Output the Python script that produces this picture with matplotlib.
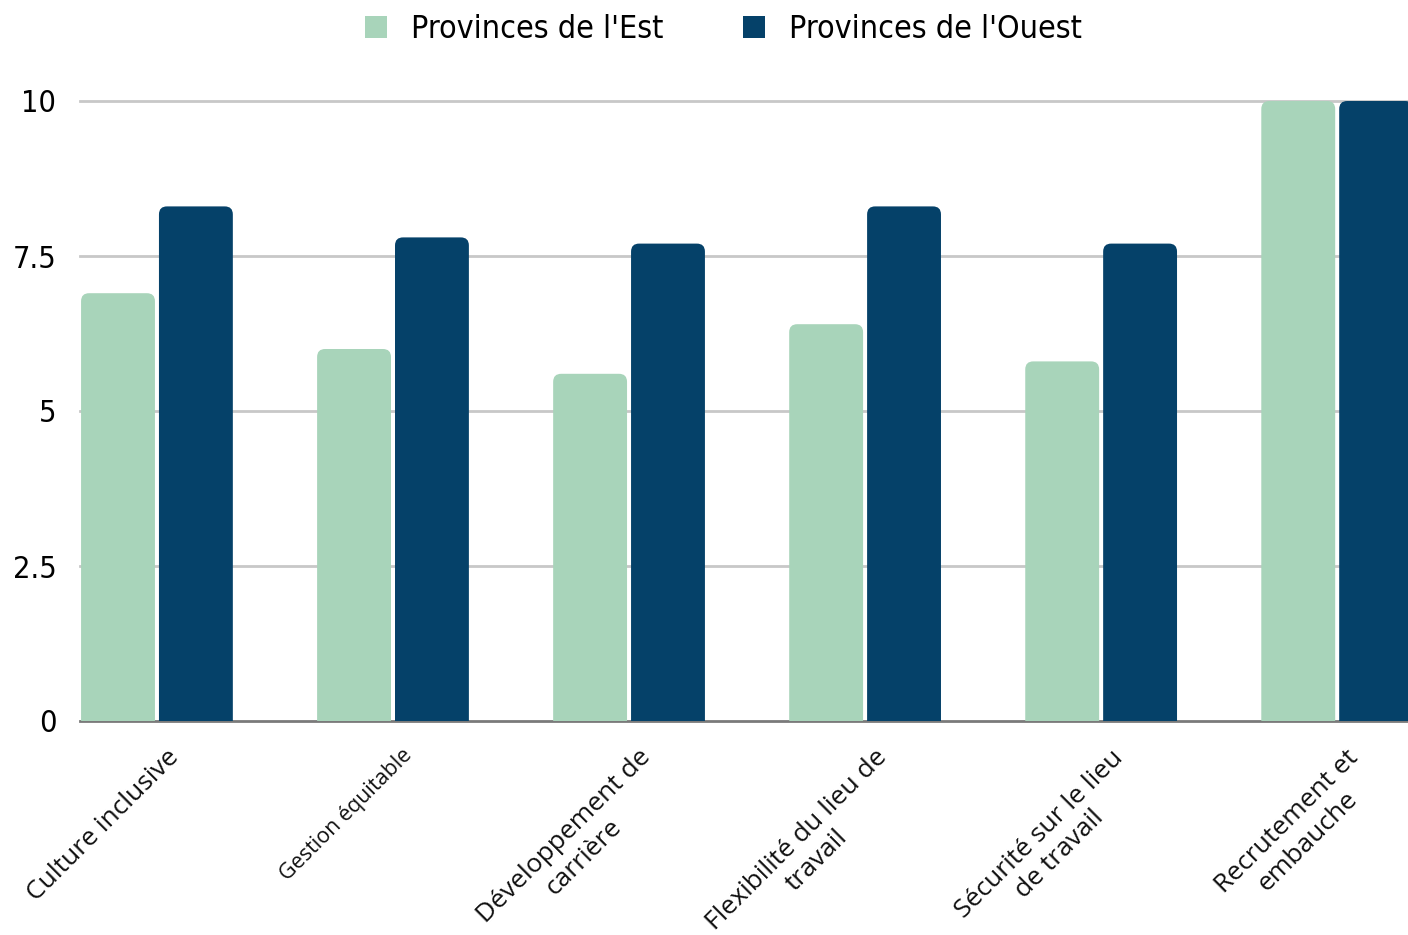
import matplotlib.pyplot as plt
from matplotlib.patches import FancyBboxPatch, Patch

# ---- data ----
categories = ["Culture inclusive", "Gestion équitable", "Développement de\ncarrière",
              "Flexibilité du lieu de\ntravail", "Sécurité sur le lieu\nde travail",
              "Recrutement et\nembauche"]
label_sizes = [19, 15.5, 19, 19, 19, 19]
est = [6.9, 6.0, 5.6, 6.4, 5.8, 10.0]
ouest = [8.3, 7.8, 7.7, 8.3, 7.7, 10.0]
series_names = ["Provinces de l'Est", "Provinces de l'Ouest"]
yticks = [0, 2.5, 5, 7.5, 10]
ytick_labels = ["0", "2.5", "5", "7.5", "10"]

col_est = "#a8d4ba"
col_ouest = "#054169"

W, H = 1408, 935
fig = plt.figure(figsize=(W / 100, H / 100), dpi=100)
ax = fig.add_axes([80 / W, (H - 721) / H, 1 - 80 / W, 620 / H])

xmin, xmax = -0.326, 5.30
ax.set_xlim(xmin, xmax)
ax.set_ylim(0, 10)

bw = 0.313
gap = 0.017
# data units per pixel, used to make the corner rounding look circular
px_x = (xmax - xmin) / (W - 80)
px_y = 10 / 620
r = 8 * px_x
aspect = px_y / px_x


def rounded_bar(x0, h, color):
    # extend below zero so only the top corners show rounded
    p = FancyBboxPatch((x0, -1), bw, h + 1,
                       boxstyle=f"round,pad=0,rounding_size={r}",
                       mutation_aspect=aspect, fc=color, ec="none", zorder=3)
    ax.add_patch(p)


for i in range(len(categories)):
    rounded_bar(i - gap / 2 - bw, est[i], col_est)
    rounded_bar(i + gap / 2, ouest[i], col_ouest)

# grid
for t in yticks[1:]:
    ax.axhline(t, color="#c8c8c8", lw=2, zorder=1, clip_on=False)
ax.axhline(0, color="#7a7a7a", lw=2, zorder=2, clip_on=False)

for s in ax.spines.values():
    s.set_visible(False)

ax.set_yticks(yticks)
ax.set_yticklabels(ytick_labels, fontsize=22, family=["DejaVu Sans"], stretch="condensed")
ax.tick_params(axis="y", length=0, pad=17)
ax.set_xticks([])

# rotated category labels
for i, lab in enumerate(categories):
    ax.annotate(lab, xy=(i, 0), xycoords=("data", "axes fraction"),
                xytext=(9, -24), textcoords="offset pixels",
                rotation=45, rotation_mode="anchor", ha="right", va="top",
                multialignment="center", fontsize=label_sizes[i],
                family=["Open Sans", "DejaVu Sans"], color="#111111")

handles = [Patch(fc=col_est, ec="none"), Patch(fc=col_ouest, ec="none")]
fig.legend(handles, series_names, loc="center", bbox_to_anchor=(0.514, 0.968),
           ncol=2, frameon=False,
           prop={"family": "DejaVu Sans", "stretch": "condensed", "size": 23},
           handlelength=0.68, handleheight=0.68, handletextpad=0.75,
           columnspacing=2.5)

fig.savefig("out.png", dpi=100)
